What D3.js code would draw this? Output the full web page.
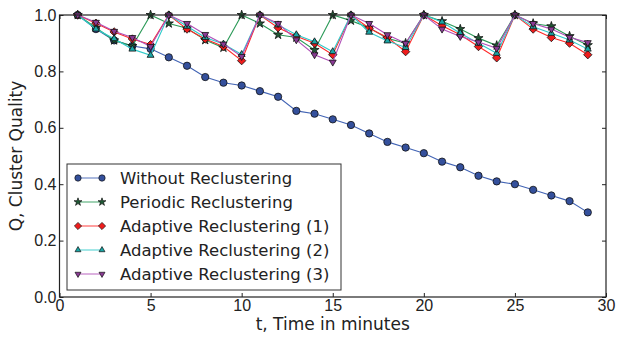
<!DOCTYPE html>
<html>
<head>
<meta charset="utf-8">
<script src="https://cdn.jsdelivr.net/npm/d3@7"></script>
<style>
  body { margin: 0; background: #fff; }
  svg { font-family: "DejaVu Sans", sans-serif; }
  .tick text { font-size: 16px; fill: #222; }
</style>
</head>
<body>
<svg width="618" height="338"></svg>
<script>
const svg = d3.select("svg");
const margin = { top: 15, right: 12, bottom: 41, left: 59.5 };
const width = +svg.attr("width");
const height = +svg.attr("height");
const innerWidth = width - margin.left - margin.right;
const innerHeight = height - margin.top - margin.bottom;

const times = d3.range(1, 30);

const withoutRe = [1.0, 0.95, 0.91, 0.89, 0.88, 0.85, 0.82, 0.78, 0.76, 0.75,
  0.73, 0.71, 0.66, 0.65, 0.63, 0.61, 0.58, 0.55, 0.53, 0.51,
  0.48, 0.46, 0.43, 0.41, 0.40, 0.38, 0.36, 0.34, 0.30];
const periodic = [1.0, 0.955, 0.91, 0.89, 1.0, 0.97, 0.953, 0.911, 0.884, 1.0,
  0.97, 0.93, 0.92, 0.876, 1.0, 0.98, 0.955, 0.917, 0.9, 1.0,
  0.978, 0.95, 0.918, 0.892, 1.0, 0.97, 0.96, 0.925, 0.893];
const adaptive1 = [1.0, 0.971, 0.94, 0.915, 0.895, 1.0, 0.95, 0.915, 0.888, 0.838,
  1.0, 0.955, 0.925, 0.9, 0.859, 1.0, 0.953, 0.92, 0.87, 1.0,
  0.962, 0.93, 0.888, 0.848, 1.0, 0.95, 0.92, 0.9, 0.859];
const adaptive2 = [1.0, 0.95, 0.916, 0.879, 0.857, 1.0, 0.96, 0.92, 0.897, 0.86,
  1.0, 0.965, 0.93, 0.905, 0.87, 1.0, 0.939, 0.908, 0.885, 1.0,
  0.975, 0.935, 0.9, 0.864, 1.0, 0.958, 0.935, 0.911, 0.879];
const adaptive3 = [1.0, 0.974, 0.942, 0.92, 0.888, 1.0, 0.97, 0.931, 0.897, 0.853,
  1.0, 0.97, 0.912, 0.859, 0.833, 1.0, 0.97, 0.93, 0.9, 1.0,
  0.95, 0.924, 0.904, 0.882, 1.0, 0.97, 0.95, 0.921, 0.902];

const xTicks = [0, 5, 10, 15, 20, 25, 30];
const yTicks = [0.0, 0.2, 0.4, 0.6, 0.8, 1.0];

const series = [
  { name: "Without Reclustering", values: withoutRe, color: "#4163b4", fill: "#34509c", marker: "circle", size: 42 },
  { name: "Periodic Reclustering", values: periodic, color: "#2c9a58", fill: "#1f5a35", marker: "star", size: 26 },
  { name: "Adaptive Reclustering (1)", values: adaptive1, color: "#ff2a2a", fill: "#ee1c1c", marker: "diamond", size: 44 },
  { name: "Adaptive Reclustering (2)", values: adaptive2, color: "#2fcaca", fill: "#1aa6a6", marker: "triangle", size: 34 },
  { name: "Adaptive Reclustering (3)", values: adaptive3, color: "#b050b8", fill: "#8a3a94", marker: "triangleDown", size: 34 },
];

const x = d3.scaleLinear().domain([0, 30]).range([0, innerWidth]);
const y = d3.scaleLinear().domain([0, 1]).range([innerHeight, 0]);

const g = svg.append("g").attr("transform", `translate(${margin.left},${margin.top})`);

const symbolFor = (m, size) => {
  if (m === "circle") return d3.symbol(d3.symbolCircle, size)();
  if (m === "star") return d3.symbol(d3.symbolStar, size)();
  if (m === "diamond") return d3.symbol(d3.symbolDiamond2, size)();
  return d3.symbol(d3.symbolTriangle2, size)();
};
const rotFor = (m) => (m === "triangleDown" ? 180 : 0);

const line = d3.line().x((d) => x(d[0])).y((d) => y(d[1]));

series.forEach((s) => {
  const pts = times.map((t, i) => [t, s.values[i]]);
  g.append("path")
    .attr("d", line(pts))
    .attr("fill", "none")
    .attr("stroke", s.color)
    .attr("stroke-width", 1.1);
  g.selectAll(null)
    .data(pts)
    .enter()
    .append("path")
    .attr("d", symbolFor(s.marker, s.size))
    .attr("transform", (d) => `translate(${x(d[0])},${y(d[1])}) rotate(${rotFor(s.marker)})`)
    .attr("fill", s.fill)
    .attr("stroke", "#111")
    .attr("stroke-width", 0.8);
});

// axes: ticks inward on all four sides
g.append("g")
  .attr("transform", `translate(0,${innerHeight})`)
  .call(d3.axisBottom(x).tickValues(xTicks).tickSizeInner(-4).tickSizeOuter(0).tickPadding(3).tickFormat(d3.format("d")));
g.append("g")
  .call(d3.axisLeft(y).tickValues(yTicks).tickSizeInner(-4).tickSizeOuter(0).tickPadding(3).tickFormat(d3.format(".1f")));
g.append("g")
  .attr("class", "mirror")
  .call(d3.axisTop(x).tickValues(xTicks).tickSizeInner(-4).tickSizeOuter(0));
g.append("g")
  .attr("class", "mirror")
  .attr("transform", `translate(${innerWidth},0)`)
  .call(d3.axisRight(y).tickValues(yTicks).tickSizeInner(-4).tickSizeOuter(0));
g.selectAll(".mirror text").remove();
g.selectAll(".domain").remove();
g.selectAll(".tick line").attr("stroke", "#222");

g.append("rect")
  .attr("width", innerWidth)
  .attr("height", innerHeight)
  .attr("fill", "none")
  .attr("stroke", "#222")
  .attr("stroke-width", 1.2);

// axis labels
svg.append("text")
  .attr("x", margin.left + innerWidth / 2)
  .attr("y", 330)
  .attr("text-anchor", "middle")
  .attr("font-size", 17)
  .attr("fill", "#222")
  .text("t, Time in minutes");
svg.append("text")
  .attr("transform", `translate(22,${margin.top + innerHeight / 2}) rotate(-90)`)
  .attr("text-anchor", "middle")
  .attr("font-size", 17)
  .attr("fill", "#222")
  .text("Q, Cluster Quality");

// legend
const legend = svg.append("g").attr("transform", "translate(67,164)");
legend.append("rect")
  .attr("width", 274)
  .attr("height", 126)
  .attr("fill", "#fff")
  .attr("stroke", "#333")
  .attr("stroke-width", 1);
const item = legend.selectAll("g.item")
  .data(series)
  .enter()
  .append("g")
  .attr("class", "item")
  .attr("transform", (d, i) => `translate(0,${14 + i * 24})`);
item.append("line")
  .attr("x1", 11).attr("x2", 35)
  .attr("stroke", (d) => d.color)
  .attr("stroke-opacity", 0.6)
  .attr("stroke-width", 1.5);
[11, 35].forEach((px) => {
  item.append("path")
    .attr("d", (d) => symbolFor(d.marker, d.size * 0.75))
    .attr("transform", (d) => `translate(${px},0) rotate(${rotFor(d.marker)})`)
    .attr("fill", (d) => d.fill)
    .attr("stroke", "#111")
    .attr("stroke-width", 0.7);
});
item.append("text")
  .attr("x", 53)
  .attr("dy", "0.35em")
  .attr("font-size", 16.5)
  .attr("fill", "#222")
  .text((d) => d.name);
</script>
</body>
</html>
